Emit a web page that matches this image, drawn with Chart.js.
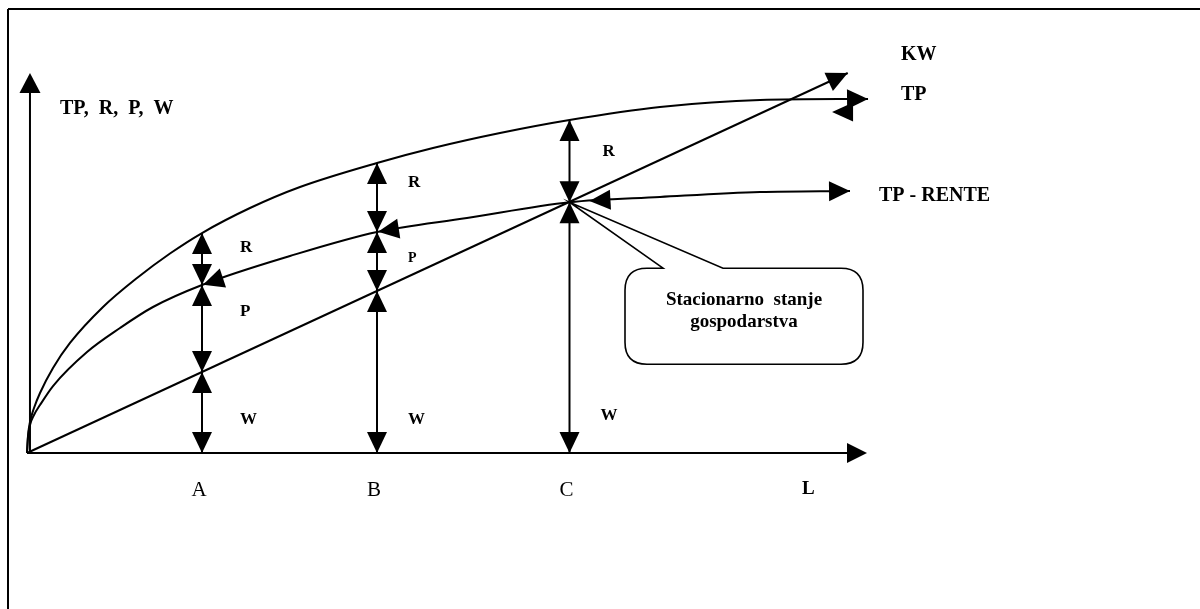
<!DOCTYPE html>
<html><head><meta charset="utf-8">
<script src="https://cdn.jsdelivr.net/npm/chart.js@4.4.1/dist/chart.umd.min.js"></script>
<style>html,body{margin:0;padding:0;background:#fff;overflow:hidden}canvas{display:block}</style>
</head><body>
<canvas id="c" width="1200" height="609"></canvas>
<script>
// ---- Data (abstract units: labour L horizontally, value vertically) ----
const categories = ['A', 'B', 'C'];
const categoryL = [10, 20, 31];
const tpL = [0, 0.057, 0.171, 0.4, 0.743, 1.486, 2.457, 4.343, 6.286, 8.171, 10, 12.743, 15.6, 20, 23.2, 27.03, 31, 36.17, 41.89, 48.06];
const tpValue = [0, 4.47, 8.16, 11.84, 15.79, 22.37, 28.95, 38.42, 46.05, 52.5, 57.89, 64.47, 70, 76.32, 80.26, 84.21, 87.63, 91.05, 92.89, 93.16];
const rentL = [0, 0.057, 0.171, 0.4, 0.743, 1.486, 3.429, 5.314, 7.2, 10, 15.03, 20, 25.14, 31, 36.17, 41.89, 47.03];
const rentValue = [0, 4.21, 7.37, 10, 12.63, 17.63, 26.58, 32.9, 38.42, 44.21, 51.84, 58.16, 61.84, 66, 67.37, 68.68, 68.95];
const kwL = [0, 46.9];
const kwValue = [0, 100];
const wLevel = [21.3, 42.6, 66];
const pLevel = [44.21, 58.16, 66];
const rLevel = [57.89, 76.32, 87.63];
const axisLMax = 48;
const axisValueMax = 100;
const yAxisL = 0.17;

// ---- helpers ----
const zip = (xs, ys) => xs.map((x, i) => ({x, y: ys[i]}));
const FONT = '"Liberation Serif", "Times New Roman", serif';

function head(ctx, tx, ty, dx, dy, len = 21, hw = 10) {
  const m = Math.hypot(dx, dy); dx /= m; dy /= m;
  const bx = tx - dx * len, by = ty - dy * len;
  ctx.beginPath();
  ctx.moveTo(tx, ty);
  ctx.lineTo(bx - dy * hw, by + dx * hw);
  ctx.lineTo(bx + dy * hw, by - dx * hw);
  ctx.closePath();
  ctx.fill();
}
function line(ctx, x1, y1, x2, y2) {
  ctx.beginPath(); ctx.moveTo(x1, y1); ctx.lineTo(x2, y2); ctx.stroke();
}
function text(ctx, s, x, y, size, bold, align) {
  ctx.font = (bold ? 'bold ' : '') + size + 'px ' + FONT;
  ctx.textAlign = align || 'left';
  ctx.textBaseline = 'alphabetic';
  ctx.fillText(s, x, y);
}

const diagram = {
  id: 'diagram',
  beforeDatasetsDraw(chart) {
    const ctx = chart.ctx, xs = chart.scales.x, ys = chart.scales.y;
    const X = v => xs.getPixelForValue(v), Y = v => ys.getPixelForValue(v);
    ctx.save();
    ctx.fillStyle = '#000'; ctx.strokeStyle = '#000'; ctx.lineWidth = 2;
    // frame
    line(ctx, 8, 9, 1200, 9);
    line(ctx, 8, 9, 8, 609);
    // axes
    line(ctx, X(yAxisL), Y(0), X(yAxisL), Y(axisValueMax) + 10);
    head(ctx, X(yAxisL), Y(axisValueMax), 0, -1, 20, 10.5);
    line(ctx, X(0), Y(0), X(axisLMax) - 10, Y(0));
    head(ctx, X(axisLMax), Y(0), 1, 0, 20, 10);
    ctx.restore();
  },
  afterDatasetsDraw(chart) {
    const ctx = chart.ctx, xs = chart.scales.x, ys = chart.scales.y;
    const X = v => xs.getPixelForValue(v), Y = v => ys.getPixelForValue(v);
    ctx.save();
    ctx.fillStyle = '#000'; ctx.strokeStyle = '#000'; ctx.lineWidth = 2;

    // vertical double arrows W / P / R
    categories.forEach((c, i) => {
      const x = X(categoryL[i]);
      const lv = [0, wLevel[i], pLevel[i], rLevel[i]];
      for (let k = 0; k < 3; k++) {
        const lo = lv[k], hi = lv[k + 1];
        if (!(hi > lo + 0.01)) continue;
        line(ctx, x, Y(lo), x, Y(hi));
        head(ctx, x, Y(hi), 0, -1, 21, 10);
        head(ctx, x, Y(lo), 0, 1, 21, 10);
      }
    });

    // curve end arrowheads
    [0, 1, 2].forEach(di => {
      const pts = chart.getDatasetMeta(di).data;
      const a = pts[pts.length - 2], b = pts[pts.length - 1];
      head(ctx, b.x, b.y, b.x - a.x, b.y - a.y, 21, 10);
    });
    // stray left-pointing head next to TP arrow
    {
      const pts = chart.getDatasetMeta(0).data; const b = pts[pts.length - 1];
      head(ctx, b.x - 36, b.y + 13, -1, 0, 21, 9.5);
    }
    // left-pointing heads along TP - RENTE at A, B and near C
    {
      const pts = chart.getDatasetMeta(1).data;
      categoryL.forEach((l, i) => {
        const idx = rentL.indexOf(l);
        const p = pts[idx], n = pts[idx + 1];
        const dx = p.x - n.x, dy = p.y - n.y;
        const m = Math.hypot(dx, dy);
        const off = i === 2 ? 20 : 1;
        head(ctx, p.x - dx / m * off, p.y - dy / m * off, dx, dy, 21, 10);
      });
    }

    // callout
    const cx = X(categoryL[2]), cy = Y(wLevel[2]);
    const L = cx + 55.5, R = cx + 293.5, T = cy + 66, B = cy + 162, r = 22;
    ctx.lineWidth = 1.6;
    ctx.beginPath();
    ctx.moveTo(cx + 93.5, T);
    ctx.lineTo(cx, cy);
    ctx.lineTo(cx + 153.5, T);
    ctx.lineTo(R - r, T);
    ctx.quadraticCurveTo(R, T, R, T + r);
    ctx.lineTo(R, B - r);
    ctx.quadraticCurveTo(R, B, R - r, B);
    ctx.lineTo(L + r, B);
    ctx.quadraticCurveTo(L, B, L, B - r);
    ctx.lineTo(L, T + r);
    ctx.quadraticCurveTo(L, T, L + r, T);
    ctx.closePath();
    ctx.stroke();
    const mid = (L + R) / 2;
    text(ctx, 'Stacionarno  stanje', mid, cy + 103, 19, true, 'center');
    text(ctx, 'gospodarstva', mid, cy + 125, 19, true, 'center');

    // labels
    text(ctx, 'TP,  R,  P,  W', 60, 114, 20, true);
    text(ctx, 'KW', 901, 60, 20, true);
    text(ctx, 'TP', 901, 100, 20, true);
    text(ctx, 'TP - RENTE', 879, 201, 20, true);
    // segment labels
    const xa = X(categoryL[0]), xb = X(categoryL[1]), xc = X(categoryL[2]);
    text(ctx, 'R', xa + 38, 252, 17, true);
    text(ctx, 'P', xa + 38, 316, 17, true);
    text(ctx, 'W', xa + 38, 424, 17, true);
    text(ctx, 'R', xb + 31, 187, 17, true);
    text(ctx, 'P', xb + 31, 262, 14, true);
    text(ctx, 'W', xb + 31, 424, 17, true);
    text(ctx, 'R', xc + 33, 156, 17, true);
    text(ctx, 'W', xc + 31, 420, 17, true);
    // axis category labels
    categories.forEach((c, i) => text(ctx, c, X(categoryL[i]) - 3, 496, 21, false, 'center'));
    text(ctx, 'L', 802, 494, 19, true);
    ctx.restore();
  }
};

const ds = (data, mono) => ({
  data, borderColor: '#000', borderWidth: 2, pointRadius: 0, fill: false,
  showLine: true, tension: 0, cubicInterpolationMode: mono ? 'monotone' : 'default'
});

new Chart(document.getElementById('c'), {
  type: 'line',
  data: {
    datasets: [
      Object.assign(ds(zip(tpL, tpValue), true), {label: 'TP'}),
      Object.assign(ds(zip(rentL, rentValue), true), {label: 'TP - RENTE'}),
      Object.assign(ds(zip(kwL, kwValue), false), {label: 'KW'})
    ]
  },
  options: {
    responsive: false, animation: false, devicePixelRatio: 1, events: [],
    layout: {padding: 0},
    plugins: {legend: {display: false}, tooltip: {enabled: false}},
    scales: {
      x: {type: 'linear', display: false, min: -27 / 17.5, max: (1200 - 27) / 17.5},
      y: {type: 'linear', display: false, min: -(609 - 453) / 3.8, max: 453 / 3.8}
    }
  },
  plugins: [diagram]
});
</script>
</body></html>
